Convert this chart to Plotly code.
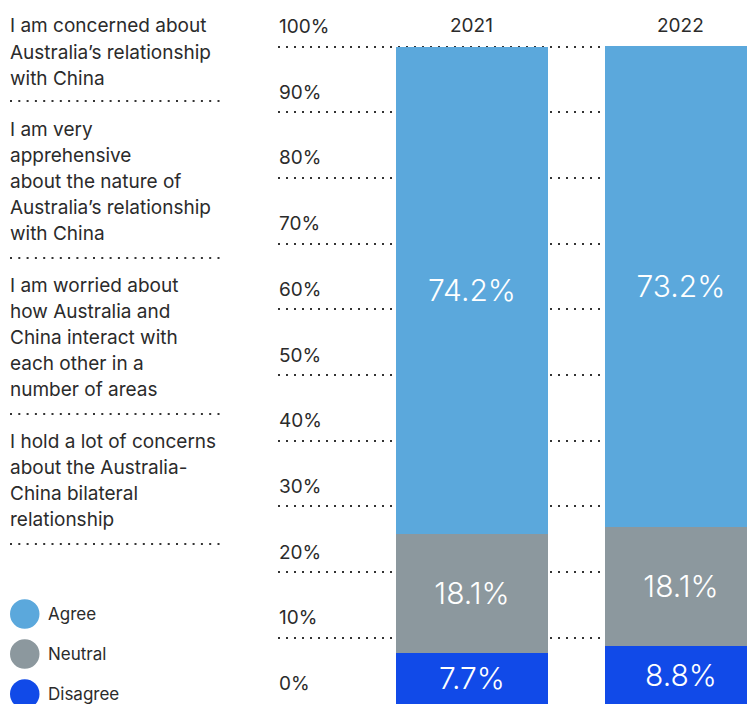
import plotly.graph_objects as go

# Survey responses by year (percent of respondents)
years = ["2021", "2022"]
agree = [74.2, 73.2]
neutral = [18.1, 18.1]
disagree = [7.7, 8.8]

series_names = ["Disagree", "Neutral", "Agree"]
series_values = [disagree, neutral, agree]
series_colors = ["#114ae8", "#8c989e", "#5ba8dc"]

y_ticks = [0, 10, 20, 30, 40, 50, 60, 70, 80, 90, 100]
y_tick_labels = [f"{v}%" for v in y_ticks]

# Statements that make up the index, one list of lines per statement
statements = [
    ["I am concerned about", "Australia’s relationship", "with China"],
    ["I am very", "apprehensive", "about the nature of", "Australia’s relationship", "with China"],
    ["I am worried about", "how Australia and", "China interact with", "each other in a", "number of areas"],
    ["I hold a lot of concerns", "about the Australia-", "China bilateral", "relationship"],
]
legend_order = ["Agree", "Neutral", "Disagree"]

W, H = 747, 704
M_L, M_R, M_T, M_B = 278, 0, 44, 0
PW, PH = W - M_L - M_R, H - M_T - M_B
FONT = "Inter"
TEXT = "#2b2b2b"


def px_x(px):
    return (px - M_L) / PW


def px_y(py):
    return (H - M_B - py) / PH


fig = go.Figure()
for name, vals, col in zip(series_names, series_values, series_colors):
    fig.add_trace(go.Bar(
        x=years, y=vals, name=name, width=0.727,
        marker=dict(color=col, line=dict(width=0)),
        text=[f"{v:.1f}%" for v in vals],
        textposition="inside", insidetextanchor="middle",
        textfont=dict(family=FONT, size=30, color="white", weight=300),
        showlegend=False, hoverinfo="skip",
    ))

annotations = []
# y tick labels sitting above each dotted gridline
for v, lab in zip(y_ticks, y_tick_labels):
    annotations.append(dict(
        x=0, xref="paper", y=v, yref="y", text=lab, showarrow=False,
        xanchor="left", yanchor="middle", xshift=-1, yshift=20,
        font=dict(family=FONT, size=19, color=TEXT),
    ))
# year headers
for i, yr in enumerate(years):
    annotations.append(dict(
        x=i, xref="x", y=100, yref="y", text=yr, showarrow=False,
        xanchor="center", yanchor="middle", yshift=21,
        font=dict(family=FONT, size=19, color=TEXT),
    ))

shapes = []
block_tops = [26, 129, 285, 441]
rule_ys = [101, 258, 414, 544]
LINE_STEP = 26.2
for lines, top, rule in zip(statements, block_tops, rule_ys):
    for i, ln in enumerate(lines):
        annotations.append(dict(
            x=px_x(8), xref="paper", y=px_y(top + i * LINE_STEP), yref="paper",
            text=ln, showarrow=False, xanchor="left", yanchor="middle",
            font=dict(family=FONT, size=19, color=TEXT),
        ))
    shapes.append(dict(
        type="line", xref="paper", yref="paper",
        x0=px_x(10), x1=px_x(220), y0=px_y(rule), y1=px_y(rule),
        line=dict(color="#333333", width=2, dash="2px,6.3px"),
    ))

# legend: large colour dots with labels
legend_ys = [614, 654, 694]
color_of = dict(zip(series_names, series_colors))
for name, cy in zip(legend_order, legend_ys):
    shapes.append(dict(
        type="circle", xref="paper", yref="paper",
        x0=px_x(10), x1=px_x(39.5), y0=px_y(cy + 14.8), y1=px_y(cy - 14.8),
        fillcolor=color_of[name], line=dict(width=0),
    ))
    annotations.append(dict(
        x=px_x(46), xref="paper", y=px_y(cy), yref="paper", text=name,
        showarrow=False, xanchor="left", yanchor="middle",
        font=dict(family=FONT, size=17, color=TEXT),
    ))

fig.update_layout(
    width=W, height=H,
    margin=dict(l=M_L, r=M_R, t=M_T, b=M_B, pad=0),
    barmode="stack",
    plot_bgcolor="white", paper_bgcolor="white",
    font=dict(family=FONT, color=TEXT),
    xaxis=dict(type="category", range=[-0.928, 1.316], showticklabels=False,
               showgrid=False, zeroline=False, showline=False, ticks=""),
    yaxis=dict(range=[-0.076, 100.38], tickvals=y_ticks, showticklabels=False,
               showgrid=True, gridcolor="#333333", gridwidth=2,
               griddash="2px,6px", zeroline=False, showline=False, ticks=""),
    annotations=annotations,
    shapes=shapes,
    uniformtext=dict(mode=False),
)

fig.write_html("out.html")
